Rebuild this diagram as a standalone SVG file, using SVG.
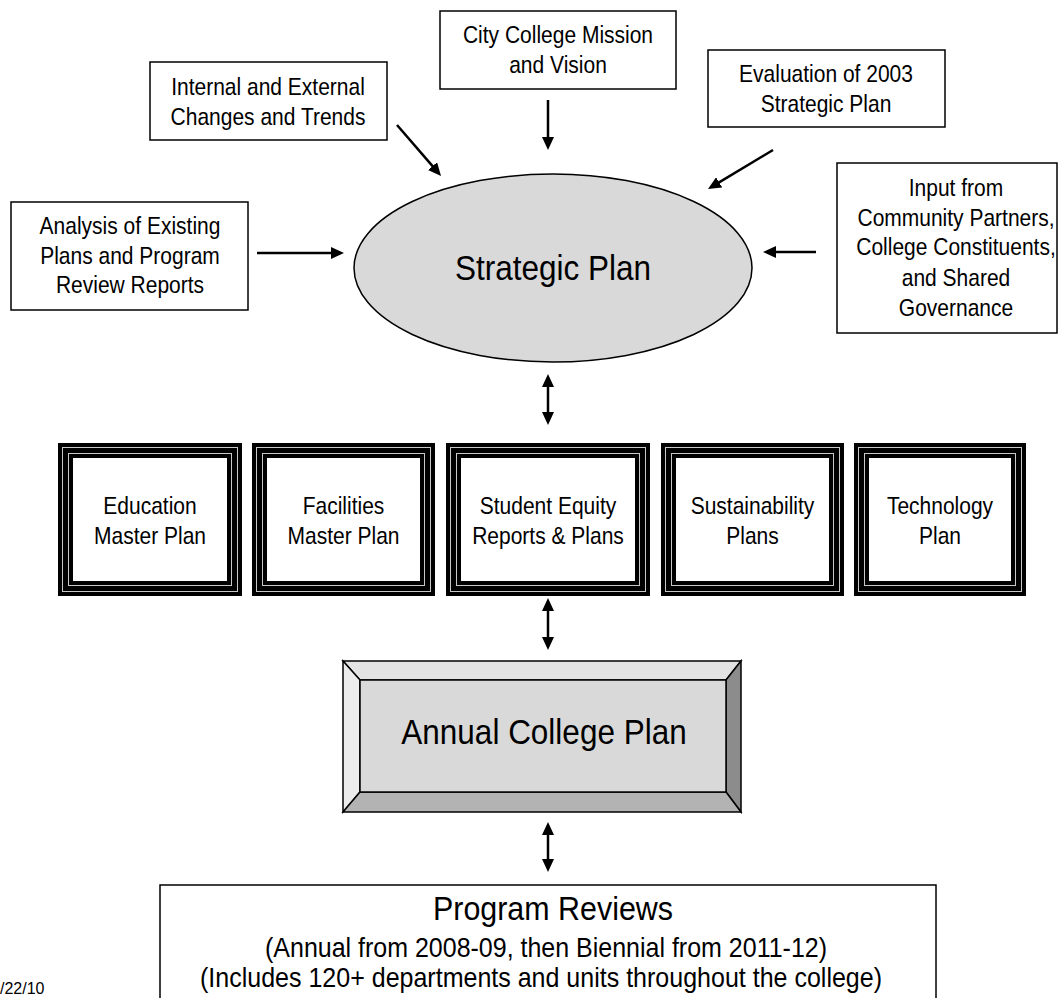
<svg xmlns="http://www.w3.org/2000/svg" width="1060" height="998" viewBox="0 0 1060 998">
<defs>
<style>
text{font-family:"Liberation Sans",Arial,sans-serif;fill:#000;text-anchor:middle}
.t21{font-size:24px}
.box{fill:#fff;stroke:#000;stroke-width:1.5}
.frame{fill:#000}
.fl{fill:none;stroke:#c8c8c8;stroke-width:1}
.fin{fill:#fff}
.conn line{stroke:#000;stroke-width:2.5}
.one{marker-end:url(#ah)}
.two{marker-end:url(#ah);marker-start:url(#ah)}
</style>
<marker id="ah" markerUnits="userSpaceOnUse" markerWidth="14" markerHeight="12" refX="3" refY="6" orient="auto-start-reverse">
<path d="M0,0 L13,6 L0,12 z" fill="#000"/>
</marker>
</defs>
<rect width="1060" height="998" fill="#fff"/>

<g id="city-college">
<rect class="box" x="440" y="11" width="236" height="78"/>
<g transform="translate(558,0) scale(0.875,1)">
<text class="t21" x="0" y="43">City College Mission</text>
<text class="t21" x="0" y="73">and Vision</text>
</g>
</g>
<g id="internal-external">
<rect class="box" x="150" y="62" width="237" height="78"/>
<g transform="translate(268,0) scale(0.875,1)">
<text class="t21" x="0" y="95">Internal and External</text>
<text class="t21" x="0" y="125">Changes and Trends</text>
</g>
</g>
<g id="evaluation">
<rect class="box" x="708" y="50" width="237" height="77"/>
<g transform="translate(826,0) scale(0.875,1)">
<text class="t21" x="0" y="82">Evaluation of 2003</text>
<text class="t21" x="0" y="112">Strategic Plan</text>
</g>
</g>
<g id="analysis">
<rect class="box" x="11" y="202" width="237" height="108"/>
<g transform="translate(130,0) scale(0.875,1)">
<text class="t21" x="0" y="234">Analysis of Existing</text>
<text class="t21" x="0" y="264">Plans and Program</text>
<text class="t21" x="0" y="293">Review Reports</text>
</g>
</g>
<g id="input">
<rect class="box" x="837" y="163" width="220" height="170"/>
<g transform="translate(956,0) scale(0.875,1)">
<text class="t21" x="0" y="196">Input from</text>
<text class="t21" x="0" y="226">Community Partners,</text>
<text class="t21" x="0" y="255">College Constituents,</text>
<text class="t21" x="0" y="286">and Shared</text>
<text class="t21" x="0" y="316">Governance</text>
</g>
</g>
<g id="strategic-plan">
<ellipse cx="553" cy="268" rx="199" ry="94" fill="#d9d9d9" stroke="#000" stroke-width="1.5"/>
<g transform="translate(553,0) scale(0.9,1)">
<text x="0" y="280" style="font-size:35px">Strategic Plan</text>
</g>
</g>

<g id="education">
<rect class="frame" x="58" y="443" width="184" height="153"/>
<rect class="fl" x="62.5" y="447.5" width="175" height="144"/>
<rect class="fl" x="68.5" y="453.5" width="163" height="132"/>
<rect class="fin" x="73" y="458" width="154" height="123"/>
<g transform="translate(150,0) scale(0.875,1)">
<text class="t21" x="0" y="514">Education</text>
<text class="t21" x="0" y="544">Master Plan</text>
</g>
</g>
<g id="facilities">
<rect class="frame" x="252" y="443" width="183" height="153"/>
<rect class="fl" x="256.5" y="447.5" width="174" height="144"/>
<rect class="fl" x="262.5" y="453.5" width="162" height="132"/>
<rect class="fin" x="267" y="458" width="153" height="123"/>
<g transform="translate(343.5,0) scale(0.875,1)">
<text class="t21" x="0" y="514">Facilities</text>
<text class="t21" x="0" y="544">Master Plan</text>
</g>
</g>
<g id="student-equity">
<rect class="frame" x="446" y="443" width="204" height="153"/>
<rect class="fl" x="450.5" y="447.5" width="195" height="144"/>
<rect class="fl" x="456.5" y="453.5" width="183" height="132"/>
<rect class="fin" x="461" y="458" width="174" height="123"/>
<g transform="translate(548,0) scale(0.875,1)">
<text class="t21" x="0" y="514">Student Equity</text>
<text class="t21" x="0" y="544">Reports &amp; Plans</text>
</g>
</g>
<g id="sustainability">
<rect class="frame" x="661" y="443" width="183" height="153"/>
<rect class="fl" x="665.5" y="447.5" width="174" height="144"/>
<rect class="fl" x="671.5" y="453.5" width="162" height="132"/>
<rect class="fin" x="676" y="458" width="153" height="123"/>
<g transform="translate(752.5,0) scale(0.875,1)">
<text class="t21" x="0" y="514">Sustainability</text>
<text class="t21" x="0" y="544">Plans</text>
</g>
</g>
<g id="technology">
<rect class="frame" x="854" y="443" width="172" height="153"/>
<rect class="fl" x="858.5" y="447.5" width="163" height="144"/>
<rect class="fl" x="864.5" y="453.5" width="151" height="132"/>
<rect class="fin" x="869" y="458" width="142" height="123"/>
<g transform="translate(940,0) scale(0.875,1)">
<text class="t21" x="0" y="514">Technology</text>
<text class="t21" x="0" y="544">Plan</text>
</g>
</g>

<g id="annual-college-plan" stroke="#000" stroke-width="1.5" stroke-linejoin="miter">
<polygon points="343,661 741,661 726,680 360,680" fill="#e3e3e3"/>
<polygon points="343,661 360,680 360,792 343,812" fill="#ececec"/>
<polygon points="741,661 741,812 726,792 726,680" fill="#8c8c8c"/>
<polygon points="343,812 360,792 726,792 741,812" fill="#b3b3b3"/>
<rect x="360" y="680" width="366" height="112" fill="#d9d9d9"/>
<g transform="translate(544,0) scale(0.9,1)">
<text x="0" y="744" stroke="none" style="font-size:35px">Annual College Plan</text>
</g>
</g>

<g id="program-reviews">
<rect class="box" x="160" y="885" width="776" height="200"/>
<text x="553" y="920" style="font-size:34px" textLength="240" lengthAdjust="spacingAndGlyphs">Program Reviews</text>
<text x="546" y="957" style="font-size:28px" textLength="562" lengthAdjust="spacingAndGlyphs">(Annual from 2008-09, then Biennial from 2011-12)</text>
<text x="541" y="987" style="font-size:28px" textLength="682" lengthAdjust="spacingAndGlyphs">(Includes 120+ departments and units throughout the college)</text>
</g>

<g id="date">
<text x="0" y="994" style="font-size:16px;text-anchor:start">/22/10</text>
</g>

<g id="connectors" class="conn">
<line class="one" x1="397" y1="125" x2="434.5" y2="168.4"/>
<line class="one" x1="548" y1="100" x2="548" y2="140"/>
<line class="one" x1="773" y1="150" x2="716.6" y2="183.9"/>
<line class="one" x1="257" y1="253" x2="334" y2="253"/>
<line class="one" x1="816" y1="252" x2="773" y2="252"/>
<line class="two" x1="548" y1="384" x2="548" y2="415"/>
<line class="two" x1="548" y1="608" x2="548" y2="640"/>
<line class="two" x1="548" y1="832" x2="548" y2="862"/>
</g>
</svg>
